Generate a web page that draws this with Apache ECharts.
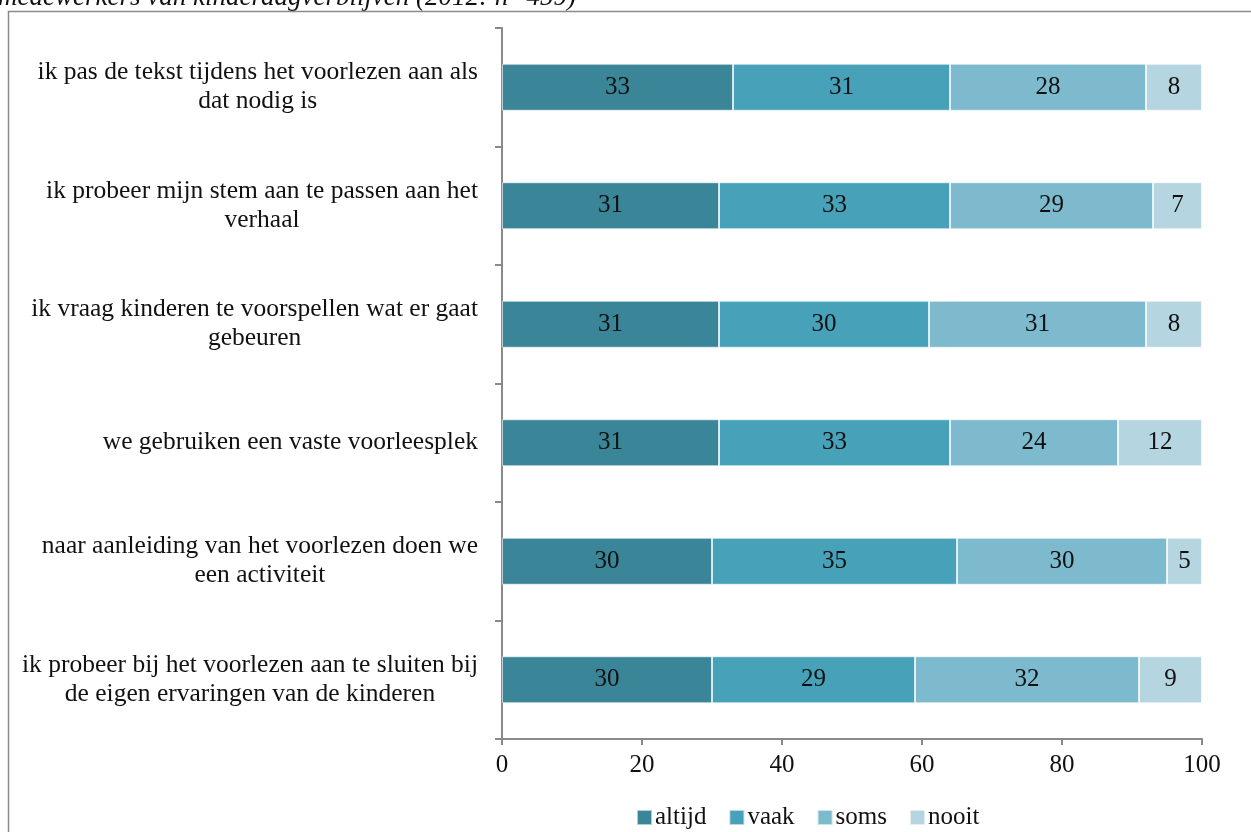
<!DOCTYPE html>
<html><head><meta charset="utf-8">
<script src="https://cdn.jsdelivr.net/npm/echarts@6/dist/echarts.min.js"></script>
<style>html,body{margin:0;padding:0;background:#fff}#c{width:1251px;height:832px}</style>
</head><body><div id="c"></div>
<script>
const categories = [
  "ik pas de tekst tijdens het voorlezen aan als\ndat nodig is",
  "ik probeer mijn stem aan te passen aan het\nverhaal",
  "ik vraag kinderen te voorspellen wat er gaat\ngebeuren",
  "we gebruiken een vaste voorleesplek",
  "naar aanleiding van het voorlezen doen we\neen activiteit",
  "ik probeer bij het voorlezen aan te sluiten bij\nde eigen ervaringen van de kinderen"
];
const altijd = [33, 31, 31, 31, 30, 30];
const vaak   = [31, 33, 30, 33, 35, 29];
const soms   = [28, 29, 31, 24, 30, 32];
const nooit  = [8, 7, 8, 12, 5, 9];
const xTicks = [0, 20, 40, 60, 80, 100];
const titleText = "medewerkers van kinderdagverblijven (2012: n=459)";

const FONT = "'Liberation Serif', 'DejaVu Serif', serif";
const colors = ['#3a8597', '#47a1b8', '#7dbace', '#b5d5e0'];
const names = ['altijd', 'vaak', 'soms', 'nooit'];
const data = [altijd, vaak, soms, nooit];

const chart = echarts.init(document.getElementById('c'));
chart.setOption({
  animation: false,
  textStyle: { fontFamily: FONT },
  graphic: [
    { type: 'text', x: -2, y: 11,
      style: { text: titleText, font: "italic 27px 'Liberation Serif'", fill: '#111',
               verticalAlign: 'bottom' }, silent: true, z: 1 },
    { type: 'rect', shape: { x: 8.5, y: 11.5, width: 1400, height: 1000 },
      style: { fill: 'none', stroke: '#8a8a8a', lineWidth: 1.5 }, silent: true, z: 2 }
  ],
  legend: {
    bottom: -3, left: 631,
    itemWidth: 15, itemHeight: 15, itemGap: 22,
    icon: 'rect',
    textStyle: { fontFamily: FONT, fontSize: 25, color: '#111', padding: [0, 0, 0, -2] },
    data: names
  },
  grid: { left: 502, right: 49, top: 28, bottom: 93, containLabel: false },
  xAxis: {
    type: 'value', min: 0, max: 100, interval: 20,
    axisLine: { show: true, lineStyle: { color: '#8a8a8a', width: 2 } },
    axisTick: { show: true, length: 6, lineStyle: { color: '#8a8a8a', width: 2 } },
    splitLine: { show: false },
    axisLabel: { fontFamily: FONT, fontSize: 25, color: '#111', margin: 14,
      formatter: v => xTicks.includes(v) ? String(v) : '' }
  },
  yAxis: {
    type: 'category', inverse: true, data: categories,
    axisLine: { show: true, lineStyle: { color: '#8a8a8a', width: 2 } },
    axisTick: { show: true, length: 7, lineStyle: { color: '#8a8a8a', width: 2 } },
    axisLabel: {
      margin: 24, fontFamily: FONT, fontSize: 25.5, color: '#111', lineHeight: 29,
      formatter: v => v.split('\n').map(l => '{c|' + l + '}').join('\n'),
      rich: { c: { align: 'center', fontFamily: FONT, fontSize: 25.5, color: '#111', lineHeight: 29 } }
    }
  },
  series: names.map((n, i) => ({
    name: n, type: 'bar', stack: 'total', data: data[i],
    barWidth: 47,
    itemStyle: { color: colors[i], borderColor: 'rgba(255,255,255,0.6)', borderWidth: 1 },
    label: { show: true, position: 'inside', fontFamily: FONT, fontSize: 25, color: '#111' }
  }))
});
</script></body></html>
